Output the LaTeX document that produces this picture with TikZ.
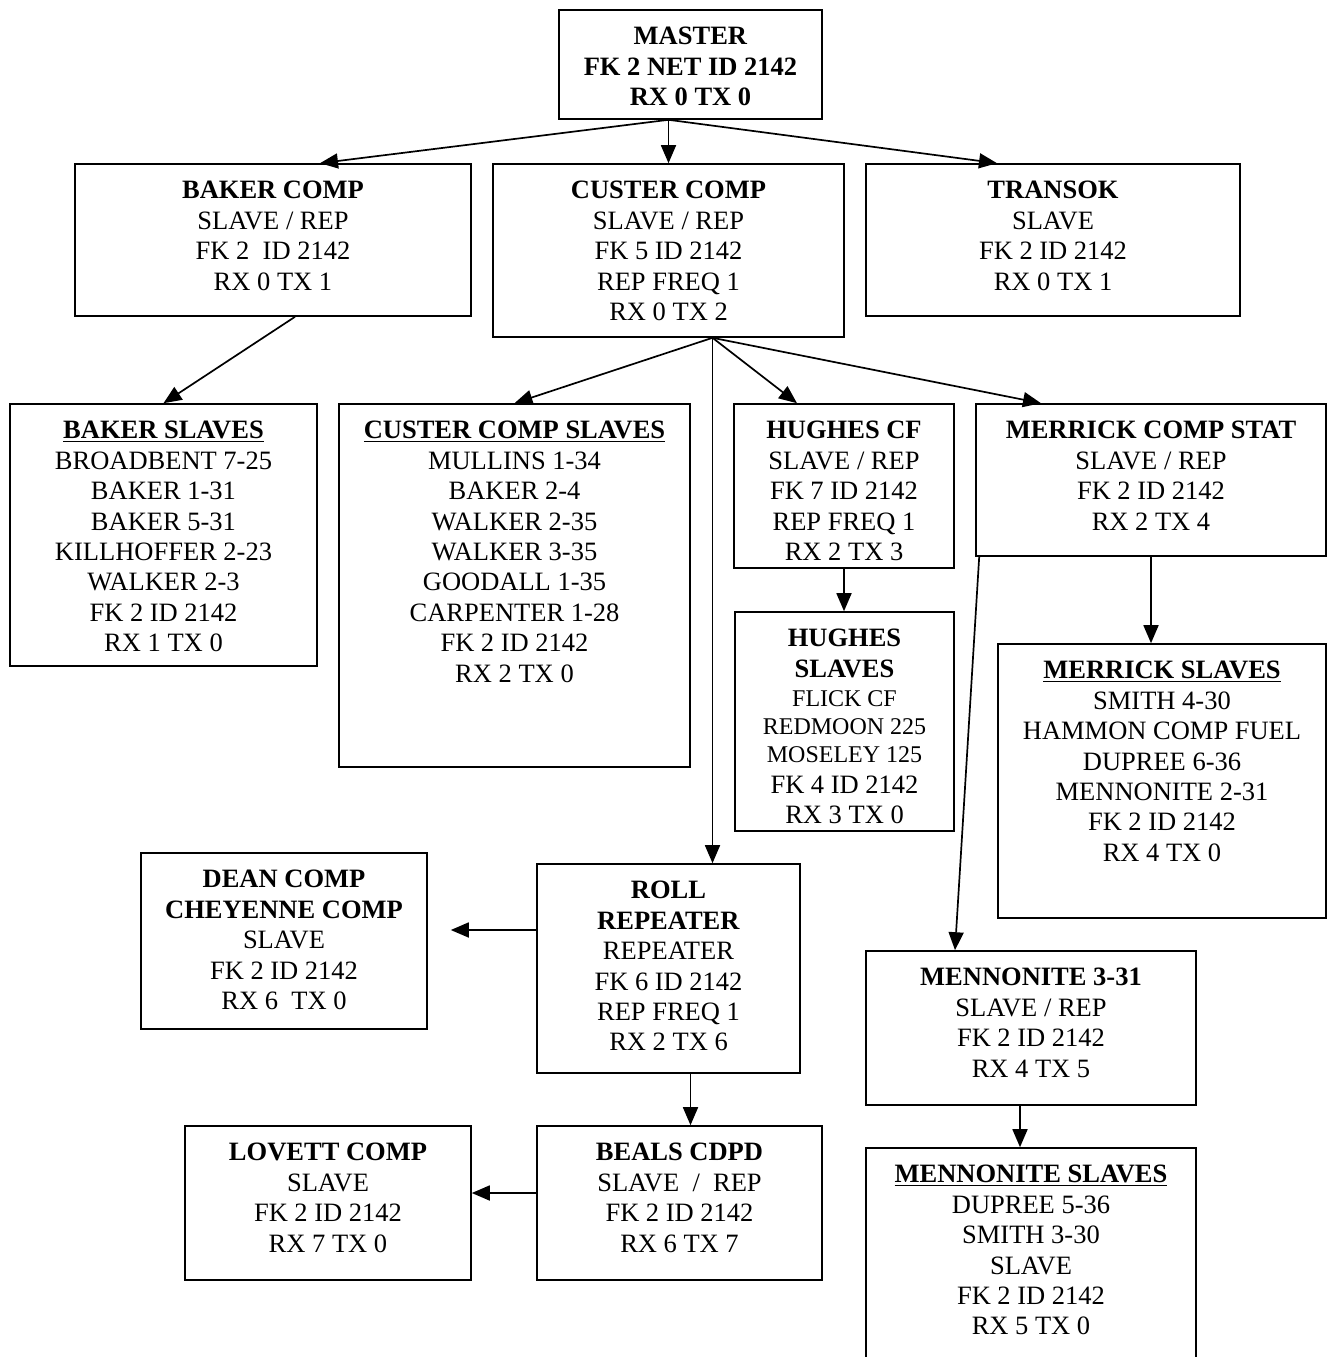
\documentclass[tikz,border=0pt]{standalone}
\usepackage{fontspec}
\setmainfont{Liberation Serif}
\usetikzlibrary{arrows.meta}

\tikzset{
  unit/.style 2 args={draw, line width=1.6pt, inner sep=0pt, minimum width=#1, minimum height=#2},
  txt/.style={anchor=north, yshift=-18pt, align=center, inner sep=0pt,
    font=\fontsize{26.5}{30.4}\selectfont, execute at begin node=\strut},
  link/.style={line width=1.7pt, -{Triangle[length=18pt,width=15pt]}}
}

\begin{document}
\begin{tikzpicture}[x=1pt,y=-1pt]
  \useasboundingbox (0,0) rectangle (1327,1357);
  \clip (0,0) rectangle (1327,1357);

  % boxes
  \node[unit={263}{109}] (master) at (690.5,64.5) {};
  \node[unit={396}{152}] (bakercomp) at (273,240) {};
  \node[unit={351}{173}] (custercomp) at (668.5,250.5) {};
  \node[unit={374}{152}] (transok) at (1053,240) {};
  \node[unit={307}{262}] (bakerslaves) at (163.5,535) {};
  \node[unit={351}{363}] (custerslaves) at (514.5,585.5) {};
  \node[unit={220}{164}] (hughescf) at (844,486) {};
  \node[unit={350}{152}] (merrickstat) at (1151,480) {};
  \node[unit={219}{219}] (hughesslaves) at (844.5,721.5) {};
  \node[unit={328}{274}] (merrickslaves) at (1162,781) {};
  \node[unit={286}{176}] (dean) at (284,941) {};
  \node[unit={263}{209}] (roll) at (668.5,968.5) {};
  \node[unit={330}{154}] (menn) at (1031,1028) {};
  \node[unit={285}{154}] (beals) at (679.5,1203) {};
  \node[unit={286}{154}] (lovett) at (328,1203) {};
  \node[unit={330}{232}] (mennslaves) at (1031,1264) {};

  % texts
  \node[txt] (master-t) at (master.north) {\textbf{MASTER}\\ \textbf{FK 2 NET ID 2142}\\ \textbf{RX 0 TX 0}};
  \node[txt] (bakercomp-t) at (bakercomp.north) {\textbf{BAKER COMP}\\ SLAVE / REP\\ FK 2~ ID 2142\\ RX 0 TX 1};
  \node[txt] (custercomp-t) at (custercomp.north) {\textbf{CUSTER COMP}\\ SLAVE / REP\\ FK 5 ID 2142\\ REP FREQ 1\\ RX 0 TX 2};
  \node[txt] (transok-t) at (transok.north) {\textbf{TRANSOK}\\ SLAVE\\ FK 2 ID 2142\\ RX 0 TX 1};
  \node[txt] (bakerslaves-t) at (bakerslaves.north) {\underline{\textbf{BAKER SLAVES}}\\ BROADBENT 7-25\\ BAKER 1-31\\ BAKER 5-31\\ KILLHOFFER 2-23\\ WALKER 2-3\\ FK 2 ID 2142\\ RX 1 TX 0};
  \node[txt] (custerslaves-t) at (custerslaves.north) {\underline{\textbf{CUSTER COMP SLAVES}}\\ MULLINS 1-34\\ BAKER 2-4\\ WALKER 2-35\\ WALKER 3-35\\ GOODALL 1-35\\ CARPENTER 1-28\\ FK 2 ID 2142\\ RX 2 TX 0};
  \node[txt] (hughescf-t) at (hughescf.north) {\textbf{HUGHES CF}\\ SLAVE / REP\\ FK 7 ID 2142\\ REP FREQ 1\\ RX 2 TX 3};
  \node[txt] (merrickstat-t) at (merrickstat.north) {\textbf{MERRICK COMP STAT}\\ SLAVE / REP\\ FK 2 ID 2142\\ RX 2 TX 4};
  \node[txt] (hughesslaves-t) at (hughesslaves.north) {\textbf{HUGHES}\\ \textbf{SLAVES}\\[-1pt]
    {\fontsize{24}{28}\selectfont FLICK CF}\\[-2.4pt] {\fontsize{24}{28}\selectfont REDMOON 225}\\[-2.4pt]
    {\fontsize{24}{28}\selectfont MOSELEY 125}\\ FK 4 ID 2142\\ RX 3 TX 0};
  \node[txt] (merrickslaves-t) at (merrickslaves.north) {\underline{\textbf{MERRICK SLAVES}}\\ SMITH 4-30\\ HAMMON COMP FUEL\\ DUPREE 6-36\\ MENNONITE 2-31\\ FK 2 ID 2142\\ RX 4 TX 0};
  \node[txt] (dean-t) at (dean.north) {\textbf{DEAN COMP}\\ \textbf{CHEYENNE COMP}\\ SLAVE\\ FK 2 ID 2142\\ RX 6~ TX 0};
  \node[txt] (roll-t) at (roll.north) {\textbf{ROLL}\\ \textbf{REPEATER}\\ REPEATER\\ FK 6 ID 2142\\ REP FREQ 1\\ RX 2 TX 6};
  \node[txt] (menn-t) at (menn.north) {\textbf{MENNONITE 3-31}\\ SLAVE / REP\\ FK 2 ID 2142\\ RX 4 TX 5};
  \node[txt] (beals-t) at (beals.north) {\textbf{BEALS CDPD}\\ SLAVE~ /~ REP\\ FK 2 ID 2142\\ RX 6 TX 7};
  \node[txt] (lovett-t) at (lovett.north) {\textbf{LOVETT COMP}\\ SLAVE\\ FK 2 ID 2142\\ RX 7 TX 0};
  \node[txt] (mennslaves-t) at (mennslaves.north) {\underline{\textbf{MENNONITE SLAVES}}\\ DUPREE 5-36\\ SMITH 3-30\\ SLAVE\\ FK 2 ID 2142\\ RX 5 TX 0};

  % connectors
  \coordinate (mfork) at (custercomp.north |- master.south);
  \draw[link] (mfork) -- ([xshift=47pt]bakercomp.north);
  \draw[link] (mfork) -- (custercomp.north);
  \draw[link] (mfork) -- ([xshift=-56pt]transok.north);

  \draw[link] ([xshift=22pt]bakercomp.south) -- (bakerslaves.north);

  \coordinate (cfork) at ([xshift=44pt]custercomp.south);
  \draw[link] (cfork) -- (custerslaves.north);
  \draw[link] (cfork) -- ([xshift=-47pt]hughescf.north);
  \draw[link] (cfork) -- ([xshift=-110pt]merrickstat.north);
  \draw[link] (cfork) -- (cfork |- roll.north);

  \draw[link] (hughescf.south) -- (hughescf.south |- hughesslaves.north);
  \draw[link] (merrickstat.south) -- (merrickstat.south |- merrickslaves.north);
  \draw[link] ([xshift=4pt]merrickstat.south west) -- ([xshift=-76pt]menn.north);

  \coordinate (rolltap) at ([yshift=38.5pt]roll.west);
  \coordinate (deantip) at ([xshift=23pt]dean.east);
  \draw[link] (rolltap) -- (deantip |- rolltap);

  \coordinate (rolldrop) at ([xshift=22pt]roll.south);
  \draw[link] (rolldrop) -- (rolldrop |- beals.north);

  \coordinate (bealstap) at ([yshift=10pt]beals.west);
  \draw[link] (bealstap) -- (bealstap -| lovett.east);

  \coordinate (menndrop) at ([xshift=-11pt]menn.south);
  \draw[link] (menndrop) -- (menndrop |- mennslaves.north);
\end{tikzpicture}
\end{document}
